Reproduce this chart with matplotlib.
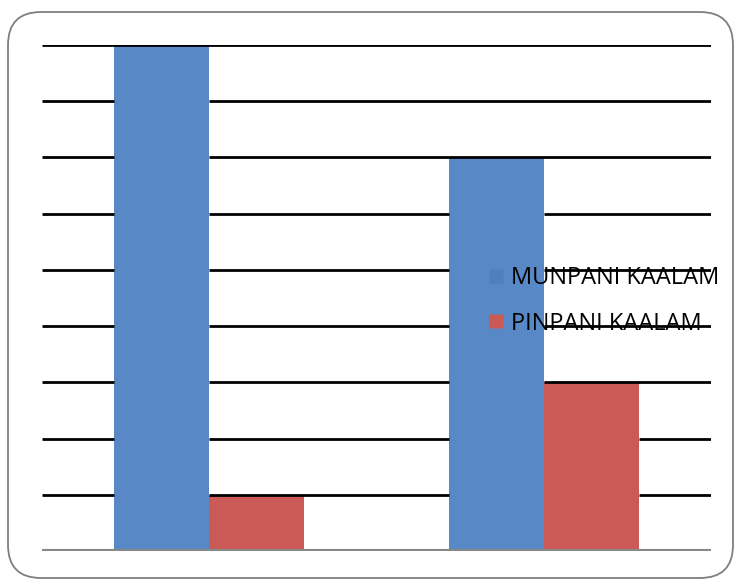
import matplotlib
matplotlib.use("Agg")
import matplotlib.pyplot as plt
from matplotlib.patches import FancyBboxPatch
from matplotlib.lines import Line2D
import numpy as np

categories = ["Group 1", "Group 2"]
series_names = ["MUNPANI KAALAM", "PINPANI KAALAM"]
munpani = [9, 7]
pinpani = [1, 3]
colors = ["#5889c6", "#cb5a56"]

W, H = 734, 581
fig = plt.figure(figsize=(W / 100, H / 100), dpi=100)

# rounded border
border = FancyBboxPatch((8 / W, 3 / H), (W - 1 - 8) / W, (H - 12 - 3) / H,
                        boxstyle="round,pad=0,rounding_size=0.045",
                        transform=fig.transFigure, fill=False,
                        edgecolor="#7f7f7f", linewidth=1.3, mutation_aspect=W / H)
fig.add_artist(border)

ax = fig.add_axes([42 / W, 30 / H, (711 - 42) / W, (551 - 45) / H])
x = np.arange(len(categories))
bw = 0.284
b1 = ax.bar(x - bw / 2, munpani, bw, color=colors[0], zorder=2, label=series_names[0])
b2 = ax.bar(x + bw / 2, pinpani, bw, color=colors[1], zorder=2, label=series_names[1])
ax.set_xlim(-0.5, len(categories) - 0.5)
ax.set_ylim(0, 9)

# gridlines as segments, hidden behind bars
spans = []
for bars in (b1, b2):
    for r in bars:
        spans.append((r.get_x(), r.get_x() + r.get_width(), r.get_height()))
for yv in range(1, 10):
    cuts = sorted([(a, b) for a, b, h in spans if h > yv])
    start = -0.5
    for a, b in cuts:
        if a > start:
            ax.plot([start, a], [yv, yv], color="black", lw=2, zorder=4, solid_capstyle="butt")
        start = max(start, b)
    ax.plot([start, len(categories) - 0.5], [yv, yv], color="black", lw=2, zorder=4, solid_capstyle="butt")
ax.axhline(0, color="#888888", lw=3, zorder=5)

for s in ax.spines.values():
    s.set_visible(False)
ax.set_xticks([])
ax.set_yticks([])

handles = [Line2D([], [], marker="s", linestyle="none", markersize=10,
                  markerfacecolor="#4f7fbc", markeredgecolor="none"),
           Line2D([], [], marker="s", linestyle="none", markersize=10,
                  markerfacecolor=colors[1], markeredgecolor="none")]
leg = ax.legend(handles, series_names, loc="center left",
                bbox_to_anchor=((489 - 42) / (711 - 42), (551 - 301) / (551 - 45)),
                frameon=False, handlelength=0.6, handletextpad=0.35,
                labelspacing=0.9, prop={"family": "Open Sans", "size": 17},
                borderpad=0, borderaxespad=0)
leg.set_zorder(3)

fig.savefig("out.png", dpi=100)
